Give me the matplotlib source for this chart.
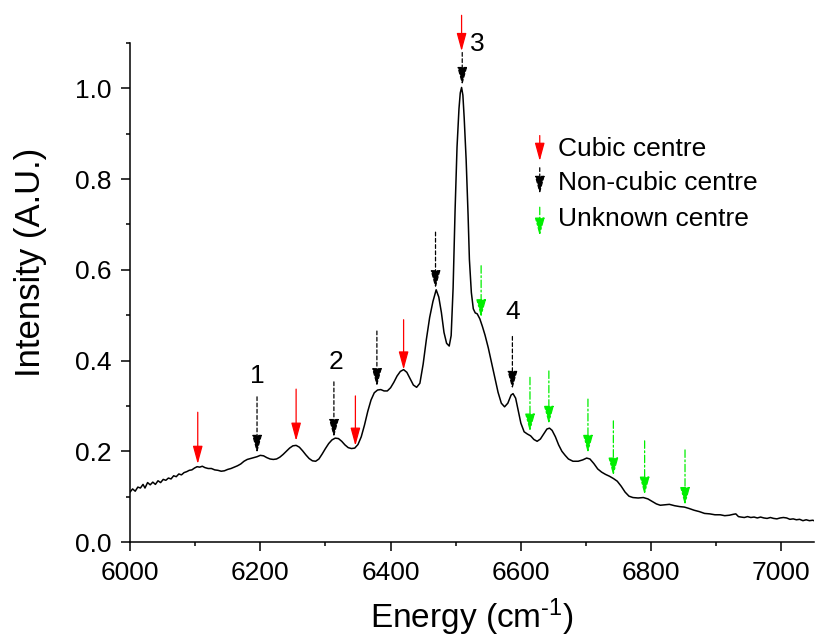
import matplotlib
matplotlib.use('Agg')
import matplotlib.pyplot as plt
from matplotlib.ticker import MultipleLocator

plt.rcParams['font.family'] = ['Liberation Sans', 'DejaVu Sans']
plt.rcParams['mathtext.fontset'] = 'custom'
plt.rcParams['mathtext.rm'] = 'Liberation Sans'
plt.rcParams['mathtext.it'] = 'Liberation Sans:italic'

# spectrum
energy = [6000, 6004, 6008, 6012, 6016, 6020, 6023, 6027, 6031, 6035, 6039, 6043, 6047, 6051, 6055,
          6059, 6063, 6067, 6071, 6075, 6079, 6083, 6087, 6091, 6095, 6099, 6103, 6107, 6111, 6115,
          6120, 6125, 6130, 6135, 6140, 6145, 6150, 6155, 6160, 6165, 6170, 6175, 6180, 6185, 6190,
          6195, 6200, 6205, 6210, 6215, 6220, 6225, 6230, 6235, 6240, 6245, 6250, 6255, 6260, 6265,
          6270, 6275, 6280, 6285, 6290, 6295, 6300, 6305, 6310, 6315, 6320, 6325, 6330, 6335, 6340,
          6345, 6350, 6355, 6360, 6365, 6370, 6375, 6380, 6385, 6390, 6395, 6400, 6405, 6410, 6415,
          6420, 6425, 6430, 6435, 6440, 6445, 6450, 6455, 6460, 6465, 6470, 6474, 6478, 6482, 6486,
          6490, 6493, 6496, 6499, 6502, 6505, 6507, 6509, 6511, 6513, 6516, 6519, 6521, 6524, 6527,
          6530, 6533, 6537, 6541, 6545, 6550, 6555, 6560, 6565, 6570, 6575, 6580, 6585, 6588, 6592,
          6596, 6600, 6605, 6610, 6615, 6620, 6625, 6630, 6635, 6640, 6644, 6648, 6653, 6658, 6663,
          6668, 6673, 6680, 6688, 6695, 6701, 6706, 6712, 6718, 6724, 6730, 6736, 6742, 6748, 6754,
          6760, 6766, 6772, 6780, 6788, 6795, 6802, 6808, 6814, 6821, 6828, 6836, 6844, 6851, 6858,
          6866, 6874, 6882, 6890, 6898, 6906, 6913, 6920, 6926, 6930, 6934, 6938, 6943, 6948, 6953,
          6958, 6963, 6968, 6973, 6978, 6983, 6988, 6993, 6998, 7003, 7008, 7013, 7018, 7023, 7028,
          7033, 7038, 7043, 7048, 7050]
intensity = [0.110, 0.117, 0.112, 0.121, 0.119, 0.127, 0.119, 0.131, 0.126, 0.132, 0.127, 0.135, 0.131, 0.138, 0.136,
             0.141, 0.139, 0.146, 0.144, 0.150, 0.148, 0.153, 0.155, 0.158, 0.159, 0.163, 0.166, 0.165, 0.167, 0.164,
             0.162, 0.162, 0.159, 0.158, 0.156, 0.157, 0.160, 0.162, 0.165, 0.168, 0.172, 0.178, 0.182, 0.184, 0.186,
             0.188, 0.191, 0.190, 0.186, 0.183, 0.182, 0.183, 0.187, 0.193, 0.200, 0.207, 0.212, 0.213, 0.209, 0.201,
             0.192, 0.184, 0.179, 0.178, 0.183, 0.194, 0.206, 0.217, 0.225, 0.229, 0.228, 0.222, 0.214, 0.208, 0.206,
             0.207, 0.215, 0.232, 0.258, 0.288, 0.313, 0.329, 0.335, 0.336, 0.333, 0.333, 0.340, 0.352, 0.366, 0.376,
             0.380, 0.374, 0.360, 0.346, 0.341, 0.350, 0.392, 0.447, 0.495, 0.530, 0.556, 0.540, 0.506, 0.462, 0.438,
             0.432, 0.455, 0.560, 0.730, 0.870, 0.955, 0.990, 1.002, 0.985, 0.935, 0.843, 0.720, 0.623, 0.550, 0.514,
             0.505, 0.503, 0.492, 0.475, 0.456, 0.428, 0.395, 0.362, 0.330, 0.306, 0.298, 0.306, 0.324, 0.327, 0.317,
             0.290, 0.262, 0.243, 0.238, 0.234, 0.226, 0.222, 0.227, 0.238, 0.249, 0.251, 0.246, 0.232, 0.214, 0.200,
             0.191, 0.183, 0.178, 0.178, 0.181, 0.185, 0.183, 0.173, 0.161, 0.154, 0.149, 0.145, 0.140, 0.134, 0.123,
             0.110, 0.101, 0.098, 0.097, 0.098, 0.095, 0.089, 0.084, 0.081, 0.082, 0.083, 0.080, 0.078, 0.077, 0.074,
             0.070, 0.067, 0.063, 0.062, 0.060, 0.060, 0.058, 0.059, 0.061, 0.062, 0.056, 0.055, 0.054, 0.056, 0.054,
             0.055, 0.053, 0.055, 0.053, 0.052, 0.054, 0.052, 0.051, 0.053, 0.054, 0.053, 0.050, 0.051, 0.049, 0.050,
             0.047, 0.049, 0.047, 0.048, 0.047]

# marked lines: position, arrow start, arrow tip
cubic_x = [6104, 6255, 6346, 6420, 6509]
cubic_top = [0.286, 0.337, 0.322, 0.49, 1.161]
cubic_tip = [0.172, 0.223, 0.212, 0.38, 1.082]

noncubic_x = [6195, 6313, 6379, 6469, 6510, 6587]
noncubic_top = [0.32, 0.353, 0.465, 0.683, 1.079, 0.453]
noncubic_tip = [0.196, 0.231, 0.343, 0.559, 1.007, 0.337]

unknown_x = [6539, 6614, 6643, 6703, 6742, 6790, 6852]
unknown_top = [0.609, 0.363, 0.377, 0.315, 0.267, 0.223, 0.203]
unknown_tip = [0.495, 0.243, 0.26, 0.196, 0.146, 0.104, 0.081]

peak_labels = ['1', '2', '3', '4']
peak_label_x = [6195, 6316, 6533, 6588]
peak_label_y = [0.366, 0.396, 1.097, 0.506]

legend_labels = ['Cubic centre', 'Non-cubic centre', 'Unknown centre']

styles = [('#ff0000', '-'), ('black', (0, (3, 2))), ('#00ee00', (0, (6, 2, 1.5, 2)))]


def arrow(ax, x, y0, y1, color, ls):
    ax.annotate('', xy=(x, y1), xytext=(x, y0), annotation_clip=False,
                arrowprops=dict(arrowstyle='-|>,head_length=1.1,head_width=0.3',
                                color=color, lw=0.9, linestyle=ls,
                                shrinkA=0, shrinkB=0, mutation_scale=10))


fig = plt.figure(figsize=(8.16, 6.44), dpi=100)
ax = fig.add_axes([130 / 816, 1 - 542 / 644, 684 / 816, 499 / 644])

ax.plot(energy, intensity, color='black', lw=1.1)

for xs, tops, tips, (c, ls) in zip([cubic_x, noncubic_x, unknown_x],
                                   [cubic_top, noncubic_top, unknown_top],
                                   [cubic_tip, noncubic_tip, unknown_tip], styles):
    for x, t0, t1 in zip(xs, tops, tips):
        arrow(ax, x, t0, t1, c, ls)

for s, x, y in zip(peak_labels, peak_label_x, peak_label_y):
    ax.text(x, y, s, ha='center', va='center', fontsize=19)

# legend drawn by hand with small arrows
leg_top = [0.896, 0.825, 0.738]
leg_tip = [0.840, 0.767, 0.675]
leg_text_y = [0.866, 0.791, 0.711]
for lab, t0, t1, ty, (c, ls) in zip(legend_labels, leg_top, leg_tip, leg_text_y, styles):
    arrow(ax, 6629, t0, t1, c, ls)
    ax.text(6657, ty, lab, ha='left', va='center', fontsize=19)

ax.set_xlim(6000, 7050)
ax.set_ylim(0, 1.1)
ax.xaxis.set_major_locator(MultipleLocator(200))
ax.xaxis.set_minor_locator(MultipleLocator(100))
ax.yaxis.set_major_locator(MultipleLocator(0.2))
ax.yaxis.set_minor_locator(MultipleLocator(0.1))
ax.yaxis.set_major_formatter(plt.FormatStrFormatter('%.1f'))

for side in ['top', 'right']:
    ax.spines[side].set_visible(False)
for side in ['left', 'bottom']:
    ax.spines[side].set_linewidth(1.1)

ax.tick_params(which='major', direction='out', length=6.5, width=1.1, labelsize=19)
ax.tick_params(which='minor', direction='out', length=3, width=1.1)
ax.tick_params(axis='x', which='major', pad=7.5)
ax.tick_params(axis='y', which='major', pad=6.5)

ax.set_xlabel(r'Energy (cm$^{\text{-1}}$)', fontsize=24)
ax.set_ylabel('Intensity (A.U.)', fontsize=25)
ax.xaxis.set_label_coords(0.5, -0.11)
ax.yaxis.set_label_coords(-0.122, 0.56)

fig.savefig('out.png', dpi=100)
